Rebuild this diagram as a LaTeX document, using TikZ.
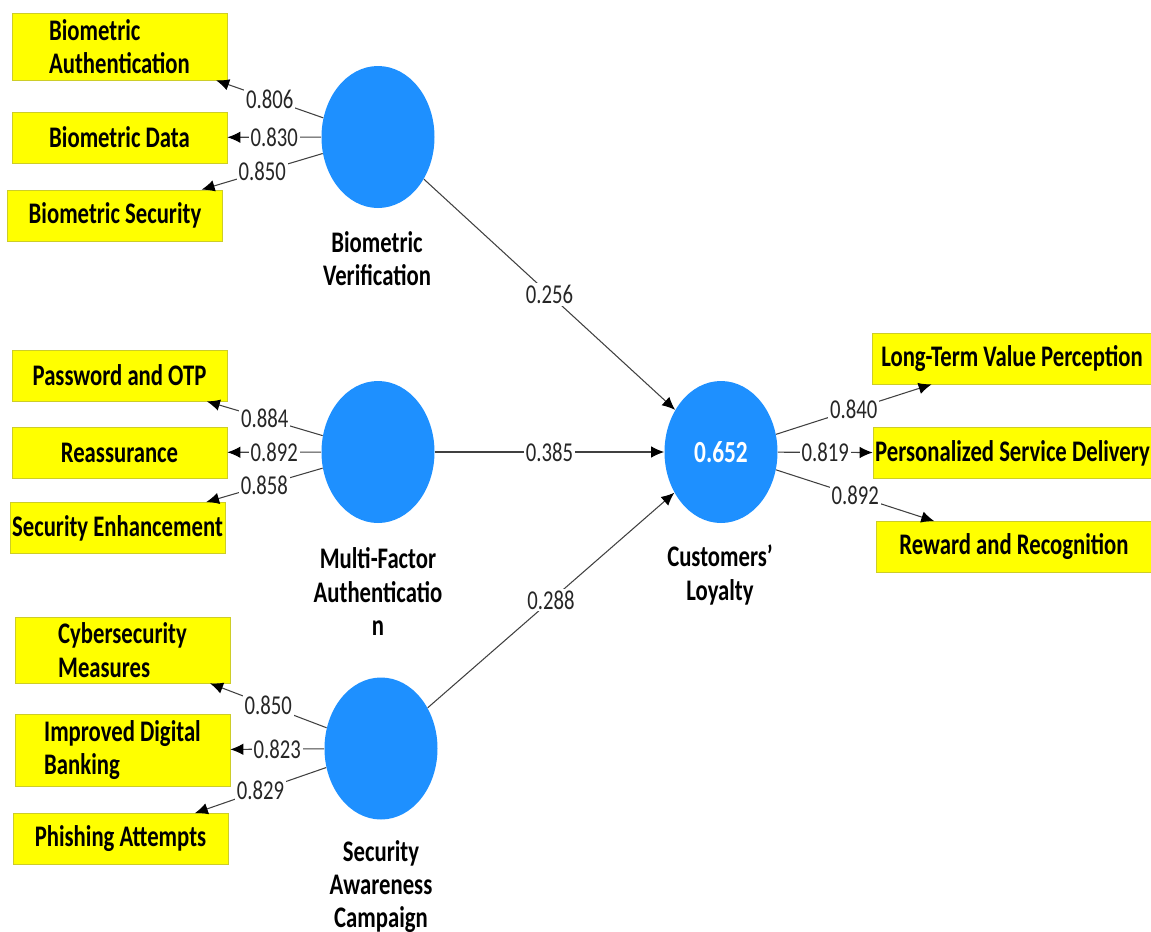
\documentclass[tikz,border=0pt]{standalone}
\usepackage{fontspec}
\setmainfont{Carlito}[FakeStretch=0.76]
\usetikzlibrary{arrows.meta,shapes.geometric}
\definecolor{lvblue}{RGB}{30,144,255}
\definecolor{mvyellow}{RGB}{255,255,0}
\definecolor{mvborder}{RGB}{205,205,40}

\begin{document}
\begin{tikzpicture}

      \useasboundingbox (0,0) rectangle (23.02,-18.64);

      % indicators
      \begin{scope}[every node/.style={rectangle,draw=mvborder,fill=mvyellow,
          font=\fontsize{17}{19}\selectfont\bfseries,align=left,
          minimum width=4.3cm,minimum height=1.02cm,inner sep=0pt}]
        \node[minimum height=1.34cm] (ba) at (2.39,-0.93)  {Biometric\\Authentication};
        \node (bd) at (2.39,-2.75)  {Biometric Data};
        \node (bs) at (2.30,-4.31)  {Biometric Security};
        \node (po) at (2.39,-7.51)  {Password and OTP};
        \node (re) at (2.39,-9.05)  {Reassurance};
        \node (se) at (2.35,-10.56) {Security Enhancement};
        \node[minimum height=1.32cm] (cm) at (2.45,-13.00) {Cybersecurity\\Measures};
        \node[minimum height=1.44cm] (id) at (2.45,-15.00) {Improved Digital\\Banking};
        \node (pa) at (2.41,-16.78) {Phishing Attempts};
        \node[minimum width=5.6cm]  (lt) at (20.24,-7.17)  {Long-Term Value Perception};
        \node[minimum width=5.58cm] (ps) at (20.25,-9.06)  {Personalized Service Delivery};
        \node[minimum width=5.52cm] (rr) at (20.28,-10.94) {Reward and Recognition};
      \end{scope}

      % constructs
      \begin{scope}[every node/.style={ellipse,fill=lvblue,minimum width=2.26cm,
          minimum height=2.84cm,inner sep=0pt}]
        \node (bv)  at (7.56,-2.74)  {};
        \node (mfa) at (7.56,-9.04)  {};
        \node (sac) at (7.62,-14.97) {};
        \node[text=white,font=\fontsize{17.5}{19}\selectfont\bfseries] (cl) at (14.42,-9.04) {0.652};
      \end{scope}

      \begin{scope}[every node/.style={font=\fontsize{17}{19}\selectfont\bfseries,align=center}]
        \node (bvl)  at (7.54,-5.17)  {Biometric\\Verification};
        \node (mfal) at (7.56,-11.83) {Multi-Factor\\Authenticatio\\n};
        \node (sacl) at (7.62,-17.73) {Security\\Awareness\\Campaign};
        \node (cll)  at (14.40,-11.50) {Customers’\\Loyalty};
      \end{scope}

      \begin{scope}[every node/.style={fill=white,inner sep=1pt,text=black!85,
          font=\fontsize{15.5}{18}\selectfont}]

        \begin{scope}[every edge/.style={draw=black!75,line width=0.6pt,
            -{Latex[length=2.6mm,width=2.3mm,color=black]}}]
          \path (bv)  edge node {0.806} (ba);
          \path (bv)  edge node {0.830} (bd);
          \path (bv)  edge node {0.850} (bs);
          \path (mfa) edge node {0.884} (po);
          \path (mfa) edge node {0.892} (re);
          \path (mfa) edge node {0.858} (se);
          \path (sac) edge node {0.850} (cm);
          \path (sac) edge node {0.823} (id);
          \path (sac) edge node {0.829} (pa);
          \path (bv)  edge node {0.256} (cl);
          \path (mfa) edge node {0.385} (cl);
          \path (sac) edge node {0.288} (cl);
          \path (cl)  edge node {0.840} (lt);
          \path (cl)  edge node {0.819} (ps);
          \path (cl)  edge node {0.892} (rr);
        \end{scope}
      \end{scope}

    \end{tikzpicture}
\end{document}
